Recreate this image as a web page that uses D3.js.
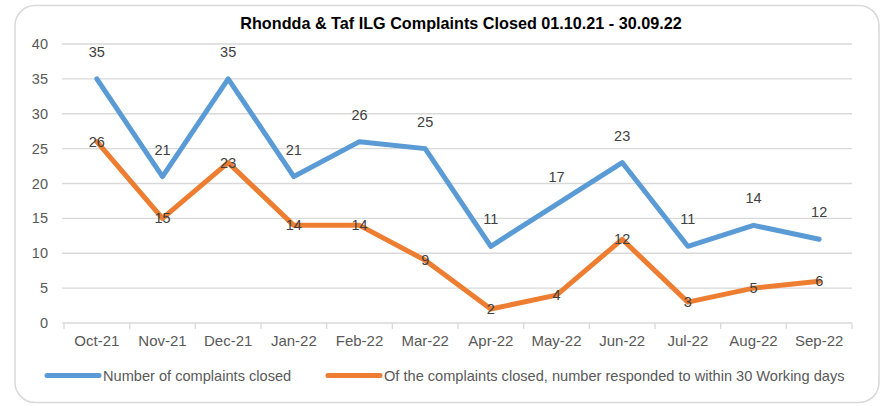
<!DOCTYPE html>
<html><head><meta charset="utf-8">
<script src="https://cdn.jsdelivr.net/npm/d3@7"></script>
<style>body{margin:0;background:#fff}svg{display:block}</style>
</head><body>
<svg id="c" width="881" height="406"></svg>
<script>
const categories = ["Oct-21","Nov-21","Dec-21","Jan-22","Feb-22","Mar-22","Apr-22","May-22","Jun-22","Jul-22","Aug-22","Sep-22"];
const closed = [35,21,35,21,26,25,11,17,23,11,14,12];
const within30 = [26,15,23,14,14,9,2,4,12,3,5,6];
const yTicks = [0,5,10,15,20,25,30,35,40];
const seriesNames = ["Number of complaints closed","Of the complaints closed, number responded to within 30 Working days"];
const title = "Rhondda & Taf ILG Complaints Closed 01.10.21 - 30.09.22";

const font = "'Liberation Sans',Arial,sans-serif";
const svg = d3.select("#c");
svg.append("rect").attr("x",15).attr("y",5.5).attr("width",864).attr("height",397).attr("rx",20)
  .attr("fill","#fff").attr("stroke","#d9d9d9").attr("stroke-width",1.5);

const x = d3.scaleBand().domain(categories).range([64,852]);
const y = d3.scaleLinear().domain([0,40]).range([323,44]);
const cx = d => x(d)+x.bandwidth()/2;

svg.append("text").attr("x",461).attr("y",29).attr("text-anchor","middle")
  .attr("font-family",font).attr("font-weight","bold").attr("font-size",16.2).attr("fill","#000").text(title);

svg.append("g").selectAll("line").data(yTicks.filter(t=>t>0)).join("line")
  .attr("x1",62).attr("x2",852).attr("y1",d=>y(d)).attr("y2",d=>y(d))
  .attr("stroke","#d9d9d9").attr("stroke-width",1.3);
svg.append("g").selectAll("text").data(yTicks).join("text")
  .attr("x",48).attr("y",d=>y(d)+5).attr("text-anchor","end")
  .attr("font-family",font).attr("font-size",14.5).attr("fill","#595959").text(d=>d);
const xa = svg.append("g").attr("transform","translate(0,323)")
  .call(d3.axisBottom(x).tickSize(0).tickPadding(12));
xa.select(".domain").attr("stroke","#d9d9d9").attr("stroke-width",1.3).attr("d","M62,0H852");
xa.selectAll("text").attr("font-family",font).attr("font-size",15).attr("fill","#595959");
svg.append("g").selectAll("line").data(categories.concat(["__end"])).join("line")
  .attr("x1",(d,i)=>64+i*x.step()).attr("x2",(d,i)=>64+i*x.step()).attr("y1",323).attr("y2",329)
  .attr("stroke","#d9d9d9").attr("stroke-width",1.3);

const line = d3.line().x((d,i)=>cx(categories[i])).y(d=>y(d));
svg.append("path").datum(closed).attr("d",line).attr("fill","none").attr("stroke","#5B9BD5")
  .attr("stroke-width",5).attr("stroke-linejoin","round").attr("stroke-linecap","round");
svg.append("path").datum(within30).attr("d",line).attr("fill","none").attr("stroke","#ED7D31")
  .attr("stroke-width",5).attr("stroke-linejoin","round").attr("stroke-linecap","round");

svg.append("g").selectAll("text").data(closed).join("text")
  .attr("x",(d,i)=>cx(categories[i])).attr("y",d=>y(d)-22).attr("text-anchor","middle")
  .attr("font-family",font).attr("font-size",14.5).attr("fill","#404040").text(d=>d);
svg.append("g").selectAll("text").data(within30).join("text")
  .attr("x",(d,i)=>cx(categories[i])).attr("y",d=>y(d)+5).attr("text-anchor","middle")
  .attr("font-family",font).attr("font-size",14.5).attr("fill","#404040").text(d=>d);

const lg = svg.append("g");
const legendItems = [{name:seriesNames[0],color:"#5B9BD5",x:47},{name:seriesNames[1],color:"#ED7D31",x:328}];
legendItems.forEach(it=>{
  lg.append("line").attr("x1",it.x).attr("x2",it.x+52).attr("y1",375.5).attr("y2",375.5)
    .attr("stroke",it.color).attr("stroke-width",5).attr("stroke-linecap","round");
  lg.append("text").attr("x",it.x+56).attr("y",381).attr("font-family",font).attr("font-size",14.6)
    .attr("fill","#595959").text(it.name);
});
</script>
</body></html>
